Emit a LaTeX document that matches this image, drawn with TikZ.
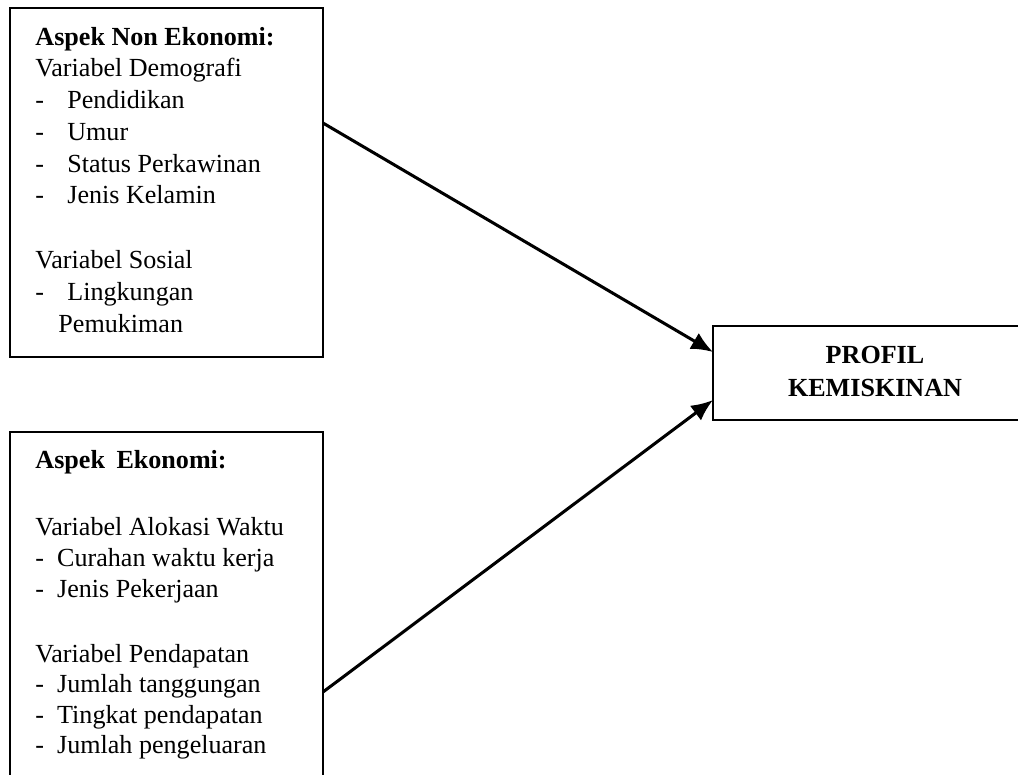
\documentclass[tikz,border=0pt]{standalone}
\usepackage{fontspec}
\setmainfont{Liberation Serif}
\usetikzlibrary{arrows.meta}

\newcommand{\dashitem}[2]{\makebox[#1][l]{-}#2}

\tikzset{
	txt/.style={anchor=base west, inner sep=0pt, font=\fontsize{12}{14.5}\selectfont},
	head/.style={anchor=base, inner sep=0pt, font=\fontsize{12}{14.5}\selectfont\bfseries},
	frame/.style={line width=0.9pt},
	link/.style={line width=1.4pt, -{Latex[length=10pt,width=8.5pt]}}
}

\begin{document}
\begin{tikzpicture}[x=0.46pt,y=-0.46pt]
		\useasboundingbox (0,0) rectangle (1018,774);
		\clip (0,0) rectangle (1018,774);

		\node [] (0) at (323,123) {};
		\node [] (1) at (713,352) {};
		\node [] (2) at (323,692) {};
		\node [] (3) at (713,400) {};

\draw[frame] (10,8) rectangle (323,357);
\draw[frame] (10,432) rectangle (323,800);
\draw[frame] (713,326) rectangle (1040,420);

		\draw [link] (0.center) to (1.center);
		\draw [link] (2.center) to (3.center);

% non ekonomi
\node[txt] (n0) at (35,45) {\textbf{Aspek Non Ekonomi:}};
\node[txt] (n1) at (35,76) {Variabel Demografi};
\node[txt] (n2) at (35,108) {\dashitem{14.7pt}{Pendidikan}};
\node[txt] (n3) at (35,140) {\dashitem{14.7pt}{Umur}};
\node[txt] (n4) at (35,172) {\dashitem{14.7pt}{Status Perkawinan}};
\node[txt] (n5) at (35,203) {\dashitem{14.7pt}{Jenis Kelamin}};
\node[txt] (n6) at (35,268) {Variabel Sosial};
\node[txt] (n7) at (35,300) {\dashitem{14.7pt}{Lingkungan}};
\node[txt] (n8) at (58,332) {Pemukiman};

% ekonomi
\node[txt] (e0) at (35,468) {\textbf{Aspek\hspace{5.3pt}Ekonomi:}};
\node[txt] (e1) at (35,535) {Variabel Alokasi Waktu};
\node[txt] (e2) at (35,566) {\dashitem{10pt}{Curahan waktu kerja}};
\node[txt] (e3) at (35,597) {\dashitem{10pt}{Jenis Pekerjaan}};
\node[txt] (e4) at (35,662) {Variabel Pendapatan};
\node[txt] (e5) at (35,692) {\dashitem{10pt}{Jumlah tanggungan}};
\node[txt] (e6) at (35,723) {\dashitem{10pt}{Tingkat pendapatan}};
\node[txt] (e7) at (35,753) {\dashitem{10pt}{Jumlah pengeluaran}};

\node[head] (p0) at (875,363) {PROFIL};
\node[head] (p1) at (875,396) {KEMISKINAN};
\end{tikzpicture}
\end{document}
